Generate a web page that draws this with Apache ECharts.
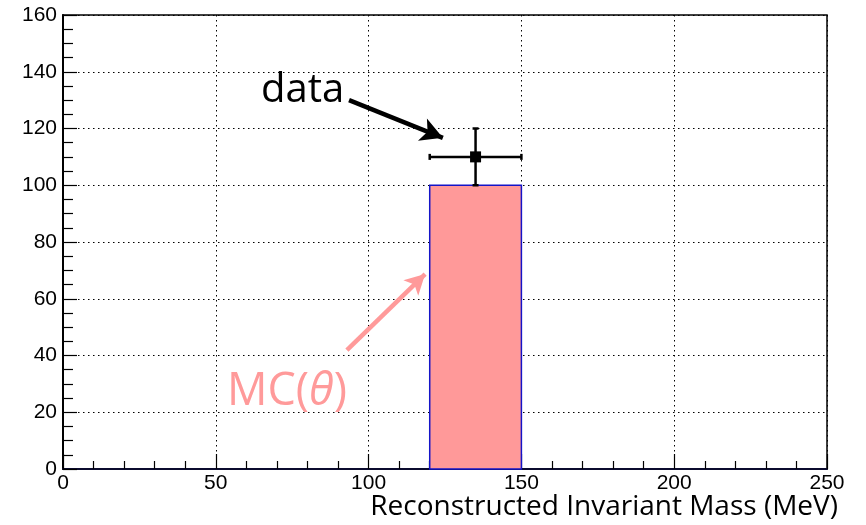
<!DOCTYPE html>
<html>
<head>
<meta charset="utf-8">
<script src="https://cdn.jsdelivr.net/npm/echarts@6/dist/echarts.min.js"></script>
<style>
html, body { margin: 0; padding: 0; background: #fff; }
#chart { width: 866px; height: 525px; }
</style>
</head>
<body>
<div id="chart"></div>
<script>
// MC histogram: one bin
const binLow = [120];
const binHigh = [150];
const mcCounts = [100];

// data point with errors
const dataX = [135];
const dataY = [110];
const dataXErr = [15];
const dataYErr = [10];

// annotation arrows, in data units [x0, y0, x1, y1]
const dataArrow = [93.6, 130, 124.3, 116.7];
const mcArrow = [92.9, 41.9, 118.5, 68.7];

const xTickMax = 250;
const yTickMax = 160;

const chart = echarts.init(document.getElementById('chart'));

const tickFont = { fontFamily: 'Liberation Sans', fontSize: 21, color: '#000' };

chart.setOption({
	animation: false,
	grid: {
		left: 63, right: 39, top: 15, bottom: 56,
		show: true, borderColor: '#000', borderWidth: 1.5,
	},
	xAxis: {
		type: 'value', min: 0, max: xTickMax, interval: 50,
		axisLine: { show: true, onZero: false, lineStyle: { color: '#0b0b2e', width: 2 } },
		axisTick: { show: true, inside: true, length: 15, lineStyle: { color: '#000', width: 1.2 } },
		minorTick: { show: true, splitNumber: 5, length: 8, lineStyle: { color: '#000', width: 1.2 } },
		axisLabel: { ...tickFont, margin: 4, showMaxLabel: true, showMinLabel: true },
		splitLine: { show: true, lineStyle: { color: '#000', type: [1.5, 3.5], width: 1 } },
	},
	yAxis: {
		type: 'value', min: 0, max: yTickMax, interval: 20,
		axisLine: { show: true, onZero: false, lineStyle: { color: '#000', width: 2 } },
		axisTick: { show: true, inside: true, length: 14, lineStyle: { color: '#000', width: 1.2 } },
		minorTick: { show: true, splitNumber: 4, length: 10, lineStyle: { color: '#000', width: 1.2 } },
		axisLabel: { ...tickFont, margin: 6 },
		splitLine: { show: true, lineStyle: { color: '#000', type: [1.5, 3.5], width: 1 } },
	},
	series: [
		{
			type: 'custom',
			data: binLow.map((lo, i) => [lo, binHigh[i], mcCounts[i]]),
			renderItem: (params, api) => {
				const a = api.coord([api.value(0), 0]);
				const b = api.coord([api.value(1), api.value(2)]);
				return {
					type: 'rect',
					shape: { x: a[0], y: b[1], width: b[0] - a[0], height: a[1] - b[1] },
					style: { fill: '#ff9999', stroke: '#1414c8', lineWidth: 1.5 },
				};
			},
			markLine: {
				silent: true,
				symbol: ['none', 'arrow'],
				symbolSize: [16, 20],
				label: { show: false },
				lineStyle: { color: '#ff9a9a', width: 4.5, type: 'solid' },
				data: [[{ coord: [mcArrow[0], mcArrow[1]] }, { coord: [mcArrow[2], mcArrow[3]] }]],
			},
			z: 2,
		},
		{
			type: 'custom',
			data: dataX.map((x, i) => [x, dataY[i], dataXErr[i], dataYErr[i]]),
			renderItem: (params, api) => {
				const x = api.value(0), y = api.value(1), ex = api.value(2), ey = api.value(3);
				const c = api.coord([x, y]);
				const l = api.coord([x - ex, y]);
				const r = api.coord([x + ex, y]);
				const t = api.coord([x, y + ey]);
				const b = api.coord([x, y - ey]);
				const st = { stroke: '#000', lineWidth: 2.5 };
				const cap = 3;
				return {
					type: 'group',
					children: [
						{ type: 'line', shape: { x1: l[0], y1: l[1], x2: r[0], y2: r[1] }, style: st },
						{ type: 'line', shape: { x1: t[0], y1: t[1], x2: b[0], y2: b[1] }, style: st },
						{ type: 'line', shape: { x1: l[0], y1: l[1] - cap, x2: l[0], y2: l[1] + cap }, style: st },
						{ type: 'line', shape: { x1: r[0], y1: r[1] - cap, x2: r[0], y2: r[1] + cap }, style: st },
						{ type: 'line', shape: { x1: t[0] - cap, y1: t[1], x2: t[0] + cap, y2: t[1] }, style: st },
						{ type: 'line', shape: { x1: b[0] - cap, y1: b[1], x2: b[0] + cap, y2: b[1] }, style: st },
						{ type: 'rect', shape: { x: c[0] - 5.5, y: c[1] - 5.5, width: 11, height: 11 }, style: { fill: '#000' } },
					],
				};
			},
			markLine: {
				silent: true,
				symbol: ['none', 'arrow'],
				symbolSize: [18, 22],
				label: { show: false },
				lineStyle: { color: '#000', width: 4.5, type: 'solid' },
				data: [[{ coord: [dataArrow[0], dataArrow[1]] }, { coord: [dataArrow[2], dataArrow[3]] }]],
			},
			z: 3,
		},
	],
	graphic: [
		{
			type: 'text', left: 261, top: 71,
			style: { text: 'data', fontFamily: 'Open Sans', fontSize: 40, fill: '#000' },
		},
		{
			type: 'text', left: 227, top: 370,
			style: {
				text: 'MC({t|θ})',
				fontFamily: 'Open Sans', fontSize: 45, fill: '#ff9a9a',
				rich: { t: { fontFamily: 'Open Sans', fontStyle: 'italic', fontSize: 45, fill: '#ff9a9a', color: '#ff9a9a' } },
			},
		},
		{
			type: 'text', right: 28, top: 493,
			style: { text: 'Reconstructed Invariant Mass (MeV)', fontFamily: 'Open Sans', fontSize: 28, fill: '#000' },
		},
	],
});
</script>
</body>
</html>
